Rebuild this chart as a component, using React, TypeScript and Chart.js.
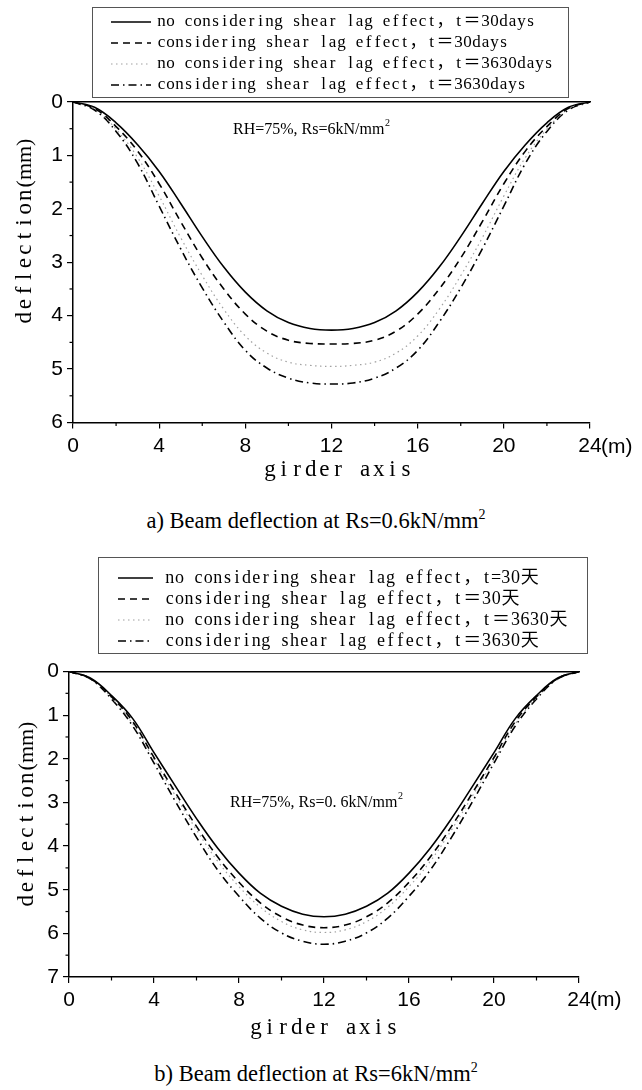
import React, { useEffect, useRef } from 'react';
import { Chart, registerables } from 'chart.js';

Chart.register(...registerables);

// ---------- data ----------
const girderX = [0, 1, 2, 3, 4, 5, 6, 7, 8, 9, 10, 11, 12, 13, 14, 15, 16, 17, 18, 19, 20, 21, 22, 23, 24];

// chart a) Rs = 0.6 kN/mm2
const noLag30A = [0, 0.1, 0.39, 0.8, 1.3, 1.9, 2.52, 3.09, 3.56, 3.91, 4.13, 4.24, 4.27, 4.24, 4.13, 3.91, 3.56, 3.09, 2.52, 1.9, 1.3, 0.8, 0.39, 0.1, 0];
const lag30A = [0, 0.12, 0.46, 0.92, 1.53, 2.24, 2.92, 3.5, 3.97, 4.29, 4.46, 4.52, 4.53, 4.52, 4.46, 4.29, 3.97, 3.5, 2.92, 2.24, 1.53, 0.92, 0.46, 0.12, 0];
const noLag3630A = [0, 0.13, 0.51, 1.04, 1.76, 2.54, 3.25, 3.88, 4.38, 4.7, 4.87, 4.93, 4.95, 4.93, 4.87, 4.7, 4.38, 3.88, 3.25, 2.54, 1.76, 1.04, 0.51, 0.13, 0];
const lag3630A = [0, 0.15, 0.55, 1.15, 1.95, 2.75, 3.48, 4.12, 4.65, 4.98, 5.17, 5.26, 5.28, 5.26, 5.17, 4.98, 4.65, 4.12, 3.48, 2.75, 1.95, 1.15, 0.55, 0.15, 0];

// chart b) Rs = 6 kN/mm2
const noLag30B = [0, 0.15, 0.55, 1.08, 1.86, 2.62, 3.37, 4.05, 4.62, 5.08, 5.38, 5.56, 5.62, 5.56, 5.38, 5.08, 4.62, 4.05, 3.37, 2.62, 1.86, 1.08, 0.55, 0.15, 0];
const lag30B = [0, 0.16, 0.58, 1.15, 1.97, 2.77, 3.55, 4.25, 4.83, 5.3, 5.62, 5.81, 5.87, 5.81, 5.62, 5.3, 4.83, 4.25, 3.55, 2.77, 1.97, 1.15, 0.58, 0.16, 0];
const noLag3630B = [0, 0.16, 0.6, 1.2, 2.02, 2.84, 3.63, 4.35, 4.93, 5.4, 5.73, 5.92, 5.98, 5.92, 5.73, 5.4, 4.93, 4.35, 3.63, 2.84, 2.02, 1.2, 0.6, 0.16, 0];
const lag3630B = [0, 0.17, 0.63, 1.25, 2.1, 2.97, 3.8, 4.55, 5.15, 5.65, 5.99, 6.18, 6.25, 6.18, 5.99, 5.65, 5.15, 4.55, 3.8, 2.97, 2.1, 1.25, 0.63, 0.17, 0];

const labelsA = [
  'no considering shear lag effect，t＝30days',
  'considering shear lag effect，t＝30days',
  'no considering shear lag effect，t＝3630days',
  'considering shear lag effect，t＝3630days',
];
const labelsB = [
  'no considering shear lag effect，t=30天',
  'considering shear lag effect，t＝30天',
  'no considering shear lag effect，t＝3630天',
  'considering shear lag effect，t＝3630天',
];

const noteA = 'RH=75%, Rs=6kN/mm';
const noteB = 'RH=75%, Rs=0. 6kN/mm';
const yTitleWord = 'deflection';
const yTitleUnit = '(mm)';
const xTitleText = 'girder axis';
const unitText = '(m)';
const captionA = 'a) Beam deflection at Rs=0.6kN/mm';
const captionB = 'b) Beam deflection at Rs=6kN/mm';

// ---------- styles ----------
const SERIF = "'Liberation Serif', 'Noto Sans CJK SC', serif";
const SANS = "'Liberation Sans', Arial, sans-serif";

const seriesStyles = [
  { borderColor: '#000000', borderWidth: 1.6, borderDash: [] as number[] },
  { borderColor: '#000000', borderWidth: 1.6, borderDash: [7, 5] },
  { borderColor: '#a0a0a0', borderWidth: 1.2, borderDash: [1.5, 3.5] },
  { borderColor: '#000000', borderWidth: 1.6, borderDash: [8, 4, 1.5, 4] },
];

// monospace-cell text drawing (imitates a SimSun-like fixed pitch serif)
function isWide(ch: string) {
  return (ch.codePointAt(0) || 0) >= 0x2e80;
}
function monoWidth(text: string, cell: number) {
  let n = 0;
  for (const ch of text) n += isWide(ch) ? 2 : 1;
  return n * cell;
}
function drawMono(ctx: CanvasRenderingContext2D, text: string, x: number, y: number, cell: number, size: number) {
  ctx.font = `${size}px ${SERIF}`;
  ctx.textAlign = 'center';
  ctx.textBaseline = 'middle';
  let cx = x;
  for (const ch of text) {
    const w = (isWide(ch) ? 2 : 1) * cell;
    if (ch !== ' ') ctx.fillText(ch, cx + w / 2, y);
    cx += w;
  }
  return cx;
}

type Decor = {
  legendBox: [number, number, number, number];
  legendRows: number[];
  sampleX: [number, number];
  textX: number;
  legendCell: number;
  legendSize: number;
  note: string;
  noteX: number;
  noteY: number;
  yTitleX: number;
  yTitleY: number;
  xTitleX: number;
  xTitleY: number;
  tickCenterDy: number;
};

function makeDecor(d: Decor) {
  return {
    id: 'decor',
    afterDraw(chart: any) {
      const ctx: CanvasRenderingContext2D = chart.ctx;
      const area = chart.chartArea;
      const xs = chart.scales.x;
      const ys = chart.scales.y;
      ctx.save();
      // minor ticks
      ctx.strokeStyle = '#000';
      ctx.lineWidth = 1.2;
      for (let v = ys.min + 0.5; v < ys.max; v += 1) {
        const py = ys.getPixelForValue(v);
        ctx.beginPath();
        ctx.moveTo(area.left, py);
        ctx.lineTo(area.left - 3.5, py);
        ctx.stroke();
      }
      for (let v = xs.min + 2; v < xs.max; v += 4) {
        const px = xs.getPixelForValue(v);
        ctx.beginPath();
        ctx.moveTo(px, area.bottom);
        ctx.lineTo(px, area.bottom + 3.5);
        ctx.stroke();
      }
      // legend box
      const [l, t, r, b] = d.legendBox;
      ctx.fillStyle = '#fff';
      ctx.fillRect(l, t, r - l, b - t);
      ctx.strokeStyle = '#555';
      ctx.lineWidth = 1;
      ctx.strokeRect(l + 0.5, t + 0.5, r - l, b - t);
      chart.data.datasets.forEach((ds: any, i: number) => {
        const y = d.legendRows[i];
        ctx.save();
        ctx.strokeStyle = ds.borderColor;
        ctx.lineWidth = ds.borderWidth;
        ctx.setLineDash(ds.borderDash || []);
        ctx.beginPath();
        ctx.moveTo(d.sampleX[0], y);
        ctx.lineTo(d.sampleX[1], y);
        ctx.stroke();
        ctx.restore();
        ctx.fillStyle = '#000';
        drawMono(ctx, ds.label, d.textX, y, d.legendCell, d.legendSize);
      });
      // annotation with superscript
      ctx.fillStyle = '#000';
      ctx.font = `16px ${SERIF}`;
      ctx.textAlign = 'left';
      ctx.textBaseline = 'middle';
      ctx.fillText(d.note, d.noteX, d.noteY);
      const end = d.noteX + ctx.measureText(d.note).width;
      ctx.font = `10px ${SERIF}`;
      ctx.fillText('2', end + 0.5, d.noteY - 7);
      // y title
      ctx.save();
      ctx.translate(d.yTitleX, d.yTitleY);
      ctx.rotate(-Math.PI / 2);
      ctx.font = `22px ${SERIF}`;
      const unitW = ctx.measureText(yTitleUnit).width;
      const wordW = monoWidth(yTitleWord, 13.6);
      const startX = -(wordW + unitW) / 2;
      const wEnd = drawMono(ctx, yTitleWord, startX, 0, 13.6, 23);
      ctx.font = `22px ${SERIF}`;
      ctx.textAlign = 'left';
      ctx.fillText(yTitleUnit, wEnd + 1, 0);
      ctx.restore();
      // x title
      drawMono(ctx, xTitleText, d.xTitleX - monoWidth(xTitleText, 13.6) / 2, d.xTitleY, 13.6, 23);
      // unit after last tick
      ctx.font = `21px ${SANS}`;
      ctx.textAlign = 'left';
      ctx.textBaseline = 'middle';
      ctx.fillText(unitText, area.right + 11, area.bottom + d.tickCenterDy);
      ctx.restore();
    },
  };
}

type Spec = {
  top: number;
  height: number;
  series: number[][];
  labels: string[];
  yMax: number;
  padding: { left: number; top: number; right: number; bottom: number };
  yWidth: number;
  decor: Decor;
};

function DeflectionChart({ spec }: { spec: Spec }) {
  const ref = useRef<HTMLCanvasElement>(null);
  useEffect(() => {
    const datasets = spec.series.map((arr, i) => ({
      label: spec.labels[i],
      data: girderX.map((x, j) => ({ x, y: arr[j] })),
      ...seriesStyles[i],
      pointRadius: 0,
      fill: false,
      tension: 0.4,
      xAxisID: 'x',
      yAxisID: 'y',
    }));
    const tickFont = { family: SANS, size: 21 };
    const chart = new Chart(ref.current!, {
      type: 'line',
      data: { datasets },
      options: {
        animation: false,
        responsive: false,
        devicePixelRatio: 1,
        layout: { padding: spec.padding },
        plugins: { legend: { display: false }, tooltip: { enabled: false } },
        scales: {
          x: {
            type: 'linear',
            position: 'bottom',
            min: 0,
            max: 24,
            afterFit: (s: any) => { s.height = 30; },
            ticks: { stepSize: 4, color: '#000', font: tickFont, padding: 5, maxRotation: 0 },
            grid: { drawOnChartArea: false, drawTicks: true, tickLength: 6, color: '#000', lineWidth: 1.2 },
            border: { display: true, color: '#000', width: 1.5 },
          },
          x2: {
            type: 'linear',
            position: 'top',
            display: true,
            min: 0,
            max: 24,
            afterFit: (s: any) => { s.height = 0; },
            ticks: { display: false },
            grid: { display: false },
            border: { display: true, color: '#000', width: 1.5 },
          },
          y: {
            type: 'linear',
            reverse: true,
            min: 0,
            max: spec.yMax,
            afterFit: (s: any) => { s.width = spec.yWidth; },
            ticks: { stepSize: 1, color: '#000', font: tickFont, padding: 4 },
            grid: { drawOnChartArea: false, drawTicks: true, tickLength: 6, color: '#000', lineWidth: 1.2 },
            border: { display: true, color: '#000', width: 1.5 },
          },
        },
      },
      plugins: [makeDecor(spec.decor)],
    } as any);
    return () => chart.destroy();
  }, []);
  return (
    <canvas
      ref={ref}
      width={642}
      height={spec.height}
      style={{ position: 'absolute', left: 0, top: spec.top, width: 642, height: spec.height }}
    />
  );
}

const specA: Spec = {
  top: 0,
  height: 500,
  series: [noLag30A, lag30A, noLag3630A, lag3630A],
  labels: labelsA,
  yMax: 6,
  padding: { left: 0, top: 102, right: 52, bottom: 47.5 },
  yWidth: 73,
  decor: {
    legendBox: [92, 7, 568, 97],
    legendRows: [22, 43, 64, 85],
    sampleX: [111, 151],
    textX: 157,
    legendCell: 9,
    legendSize: 17,
    note: noteA,
    noteX: 233,
    noteY: 130,
    yTitleX: 25,
    yTitleY: 232,
    xTitleX: 338,
    xTitleY: 470,
    tickCenterDy: 24.5,
  },
};

const specB: Spec = {
  top: 540,
  height: 510,
  series: [noLag30B, lag30B, noLag3630B, lag3630B],
  labels: labelsB,
  yMax: 7,
  padding: { left: 0, top: 131.5, right: 63, bottom: 43 },
  yWidth: 69,
  decor: {
    legendBox: [98, 17, 587, 113],
    legendRows: [38, 59, 80, 101],
    sampleX: [118, 153],
    textX: 165,
    legendCell: 9.6,
    legendSize: 18,
    note: noteB,
    noteX: 230,
    noteY: 263,
    yTitleX: 27,
    yTitleY: 275,
    xTitleX: 324,
    xTitleY: 488,
    tickCenterDy: 23,
  },
};

function Caption({ text, centerY }: { text: string; centerY: number }) {
  return (
    <div
      style={{
        position: 'absolute',
        left: -5,
        width: 642,
        top: centerY - 14,
        height: 28,
        lineHeight: '28px',
        textAlign: 'center',
        fontFamily: "'Liberation Serif', 'Times New Roman', serif",
        fontSize: 22.5,
        color: '#000',
        whiteSpace: 'nowrap',
      }}
    >
      {text}
      <sup style={{ fontSize: 14 }}>2</sup>
    </div>
  );
}

export default function App() {
  return (
    <div style={{ position: 'absolute', left: 0, top: 0, width: 642, height: 1090, background: '#fff' }}>
      <DeflectionChart spec={specA} />
      <Caption text={captionA} centerY={515} />
      <DeflectionChart spec={specB} />
      <Caption text={captionB} centerY={1068} />
    </div>
  );
}
